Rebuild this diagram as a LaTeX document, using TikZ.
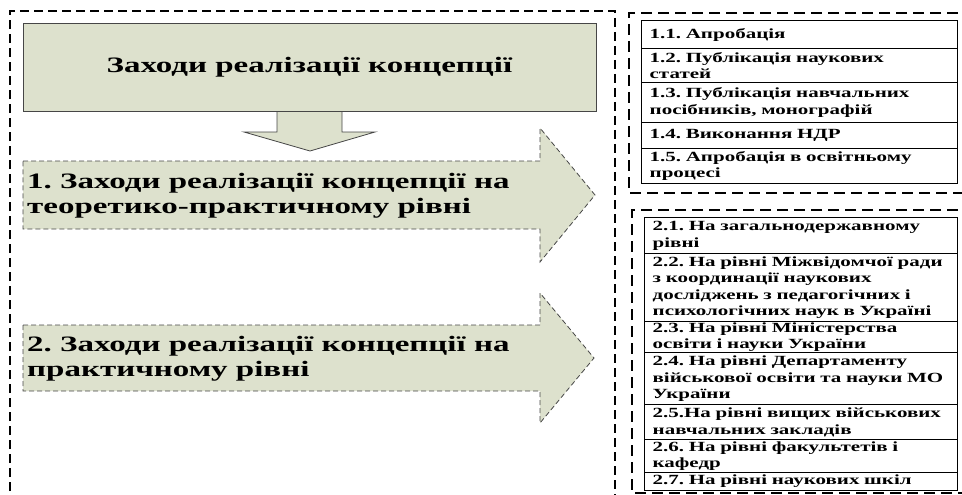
\documentclass[tikz,border=0pt]{standalone}
\usepackage{fontspec}
\newfontfamily\widefont{Liberation Serif}[FakeStretch=1.5]
\definecolor{panelfill}{RGB}{221,225,205}
\definecolor{edgegray}{RGB}{70,70,70}
\frenchspacing

\begin{document}
\begin{tikzpicture}[x=1pt, y=-1pt,
    zone/.style={draw=black, line width=1.3pt, dash pattern=on 9pt off 5pt},
    panel/.style={draw=edgegray, fill=panelfill, line width=0.8pt},
    bigarrow/.style={draw=edgegray, fill=panelfill, line width=0.8pt, dash pattern=on 5pt off 3pt},
    bigtext/.style={font=\widefont\bfseries\fontsize{22}{25}\selectfont, align=left},
    cell/.style={draw, line width=1.3pt, anchor=north west, align=left, inner xsep=8pt, inner ysep=0pt,
        font=\widefont\bfseries\fontsize{14}{16.5}\selectfont}
]
    \useasboundingbox (0,0) rectangle (962,495);
    \clip (0,0) rectangle (962,495);

    % dashed zones
    \draw [zone] (10,505) -- (10,11) -- (615,11) -- (615,505);
    \draw [zone, dash pattern=on 11pt off 6pt] (975,13) -- (629,13) -- (629,193) -- (975,193);
    \draw [zone, dash pattern=on 11pt off 6pt] (975,210) -- (632,210) -- (632,493) -- (975,493);

    % left side
    \filldraw [panel] (277,111) -- (277,132) -- (244,132) -- (310,151) -- (375,132) -- (342,132) -- (342,111);
    \node [panel, bigtext, minimum width=573pt, minimum height=88pt] (title) at (309.5,67) {Заходи реалізації концепції};

    \filldraw [bigarrow] (23,161) -- (540,161) -- (540,128) -- (595,195) -- (540,262) -- (540,229) -- (23,229) -- cycle;
    \node [bigtext, anchor=west, inner sep=1pt] (lvl1) at (26,196) {1. Заходи реалізації концепції на\\теоретико-практичному рівні};

    \filldraw [bigarrow] (23,325) -- (540,325) -- (540,293) -- (594,358) -- (540,423) -- (540,391) -- (23,391) -- cycle;
    \node [bigtext, anchor=west, inner sep=1pt] (lvl2) at (26,359) {2. Заходи реалізації концепції на\\практичному рівні};

    % Rows
    \foreach \n/\top/\h/\txt in {1/20/28/{1.1. Апробація},
        2/48/34/{1.2. Публікація наукових\\статей},
        3/82/40/{1.3. Публікація навчальних\\посібників, монографій},
        4/122/26/{1.4. Виконання НДР},
        5/148/35/{1.5. Апробація в освітньому\\процесі}} {
        \node [cell, text width=300pt, minimum height=\h*1pt] (a\n) at (641,\top) {\txt};
    }
    \foreach \n/\top/\h/\txt in {1/217/36/{2.1. На загальнодержавному\\рівні},
        2/253/68/{2.2. На рівні Міжвідомчої ради\\з координації наукових\\досліджень з педагогічних і\\психологічних наук в Україні},
        3/321/31/{2.3. На рівні Міністерства\\освіти і науки України},
        4/352/52/{2.4. На рівні Департаменту\\військової освіти та науки МО\\України},
        5/404/35/{2.5.На рівні вищих військових\\навчальних закладів},
        6/439/33/{2.6. На рівні факультетів і\\кафедр},
        7/472/18/{2.7. На рівні наукових шкіл}} {
        \node [cell, text width=297pt, minimum height=\h*1pt] (b\n) at (644,\top) {\txt};
    }
\end{tikzpicture}
\end{document}
